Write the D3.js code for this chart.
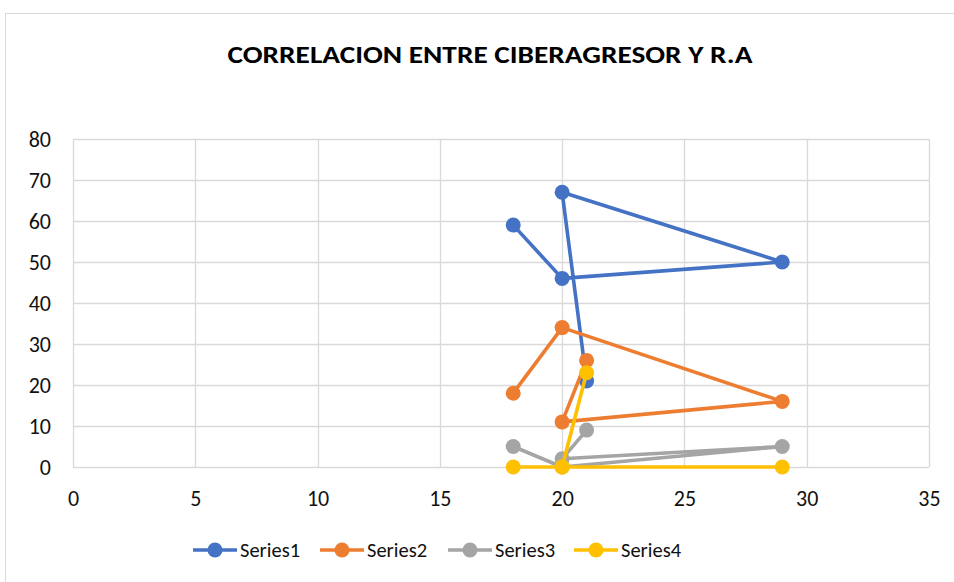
<!DOCTYPE html>
<html>
<head>
<meta charset="utf-8">
<script src="https://cdn.jsdelivr.net/npm/d3@7"></script>
<style>
  body { margin: 0; background: #fff; }
  text { font-family: Carlito, Lato, "Liberation Sans", sans-serif; }
</style>
</head>
<body>
<svg id="chart" width="954" height="582"></svg>
<script>
// data
let seriesNames = ["Series1", "Series2", "Series3", "Series4"];
let seriesColors = ["#4472C4", "#ED7D31", "#A5A5A5", "#FFC000"];
let xValues = [18, 20, 29, 20, 21];
let series1 = [59, 46, 50, 67, 21];
let series2 = [18, 34, 16, 11, 26];
let series3 = [5, 0, 5, 2, 9];
let series4 = [0, 0, 0, 0, 23];
let xTicks = [0, 5, 10, 15, 20, 25, 30, 35];
let yTicks = [0, 10, 20, 30, 40, 50, 60, 70, 80];
let title = "CORRELACION ENTRE CIBERAGRESOR Y R.A";

let allSeries = [series1, series2, series3, series4];

let margin = {left: 73, right: 25, top: 139, bottom: 115};
let W = 954, H = 582;

let svg = d3.select('#chart');

// outer chart frame
svg.append('rect')
    .attr('x', 5.5).attr('y', 13.5)
    .attr('width', 960).attr('height', 600)
    .attr('fill', 'white')
    .attr('stroke', '#d9d9d9');

let x = d3.scaleLinear().domain([0, 35]).range([margin.left, W - margin.right]);
let y = d3.scaleLinear().domain([0, 80]).range([H - margin.bottom, margin.top]);

// gridlines
svg.append('g')
    .selectAll('line.h')
    .data(yTicks).enter()
    .append('line')
        .attr('x1', x(0)).attr('x2', x(35))
        .attr('y1', d => Math.round(y(d)) + 0.5).attr('y2', d => Math.round(y(d)) + 0.5)
        .attr('stroke', '#d9d9d9').attr('stroke-width', 1.3);

svg.append('g')
    .selectAll('line.v')
    .data(xTicks).enter()
    .append('line')
        .attr('y1', y(0)).attr('y2', y(80))
        .attr('x1', d => Math.round(x(d)) + 0.5).attr('x2', d => Math.round(x(d)) + 0.5)
        .attr('stroke', '#d9d9d9').attr('stroke-width', 1.3);

// axes (labels only, lines drawn as grid)
let xAxis = svg.append('g')
    .attr('transform', `translate(0,${y(0)})`)
    .call(d3.axisBottom(x).tickValues(xTicks).tickSize(0).tickPadding(31));
let yAxis = svg.append('g')
    .attr('transform', `translate(${x(0)},0)`)
    .call(d3.axisLeft(y).tickValues(yTicks).tickSize(0).tickPadding(22));

[xAxis, yAxis].forEach(a => {
    a.select('.domain').remove();
    a.selectAll('text')
        .style('font-size', '22px')
        .style('font-family', 'Carlito, Lato, "Liberation Sans", sans-serif')
        .attr('fill', '#111');
});
xAxis.selectAll('text').attr('dy', '0.35em');
yAxis.selectAll('text').attr('dy', '0.35em');

// title
svg.append('text')
    .attr('x', 490).attr('y', 63)
    .attr('text-anchor', 'middle')
    .style('font-size', '25px')
    .style('font-weight', 'bold')
    .attr('textLength', 525)
    .attr('lengthAdjust', 'spacingAndGlyphs')
    .attr('fill', '#000')
    .text(title);

// series lines and markers
let line = d3.line()
    .x((d, i) => x(xValues[i]))
    .y(d => y(d));

allSeries.forEach((vals, s) => {
    let g = svg.append('g');
    g.append('path')
        .attr('d', line(vals))
        .attr('fill', 'none')
        .attr('stroke', seriesColors[s])
        .attr('stroke-width', 3.6)
        .attr('stroke-linejoin', 'round');
    g.selectAll('circle')
        .data(vals).enter()
        .append('circle')
            .attr('cx', (d, i) => x(xValues[i]))
            .attr('cy', d => y(d))
            .attr('r', 7.5)
            .attr('fill', seriesColors[s]);
});

// legend
let legendX = [193, 320, 448, 574];
let leg = svg.selectAll('g.legend')
    .data(seriesNames).enter()
    .append('g')
        .attr('transform', (d, i) => `translate(${legendX[i]},550)`);

leg.append('line')
    .attr('x1', 0).attr('x2', 44)
    .attr('stroke', (d, i) => seriesColors[i])
    .attr('stroke-width', 3.6);
leg.append('circle')
    .attr('cx', 22).attr('r', 7.5)
    .attr('fill', (d, i) => seriesColors[i]);
leg.append('text')
    .attr('x', 47).attr('dy', '0.35em')
    .style('font-size', '20.5px')
    .attr('fill', '#111')
    .text(d => d);
</script>
</body>
</html>
